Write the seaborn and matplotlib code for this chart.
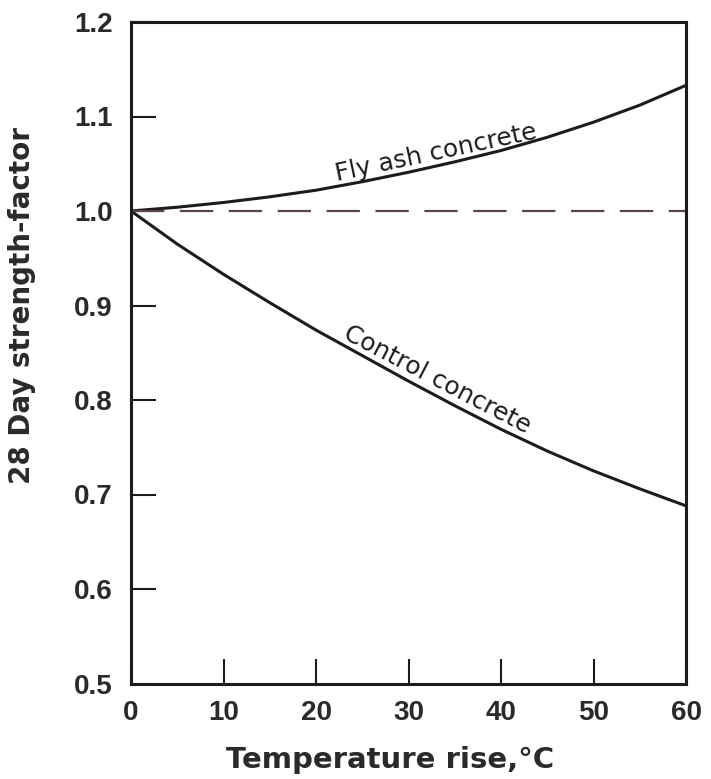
import pandas as pd
import matplotlib
matplotlib.use("Agg")
import matplotlib.pyplot as plt
import seaborn as sns

# 数值（每 5 °C 一个点）
temp_rise = [0, 5, 10, 15, 20, 25, 30, 35, 40, 45, 50, 55, 60]
fly_ash = [1.000, 1.004, 1.009, 1.015, 1.022, 1.031, 1.041, 1.052, 1.064, 1.078, 1.094, 1.112, 1.133]
control = [1.000, 0.965, 0.933, 0.903, 0.874, 0.847, 0.820, 0.794, 0.769, 0.746, 0.725, 0.706, 0.688]
reference = [1.0] * len(temp_rise)

x_ticks = [0, 10, 20, 30, 40, 50, 60]
y_ticks = [0.5, 0.6, 0.7, 0.8, 0.9, 1.0, 1.1, 1.2]

sns.set_style("white")
plt.rcParams['font.family'] = ['Liberation Sans', 'DejaVu Sans']

df = pd.DataFrame({'T': temp_rise, 'fly': fly_ash, 'ctrl': control, 'ref': reference})

fig = plt.figure(figsize=(7.11, 7.79), dpi=100)
ax = fig.add_axes([131 / 711, 1 - 683.5 / 779, 555 / 711, 661.5 / 779])

line_col = '#1c1c1c'
sns.lineplot(data=df, x='T', y='fly', ax=ax, color=line_col, linewidth=2.2)
sns.lineplot(data=df, x='T', y='ctrl', ax=ax, color=line_col, linewidth=2.2)
sns.lineplot(data=df, x='T', y='ref', ax=ax, color='#5a4646', linewidth=1.6,
             linestyle=(0, (15, 7)))

ax.set_xlim(0, 60)
ax.set_ylim(0.5, 1.2)
ax.set_xticks(x_ticks)
ax.set_yticks(y_ticks)
ax.set_yticklabels([f'{v:.1f}' for v in y_ticks])
ax.tick_params(bottom=True, left=True, top=False, right=False,
               direction='in', length=18, width=1.5, color=line_col,
               labelsize=20)
ax.tick_params(axis='x', pad=12)
ax.tick_params(axis='y', pad=13)
for lab in ax.get_xticklabels() + ax.get_yticklabels():
    lab.set_fontweight('bold')
    lab.set_color('#2a2a2a')

for s in ax.spines.values():
    s.set_linewidth(2.2)
    s.set_color(line_col)

ax.set_xlabel('Temperature rise,°C', fontsize=21, fontweight='bold',
              color='#2a2a2a', family='DejaVu Sans')
ax.xaxis.set_label_coords(0.467, -0.095)
ax.set_ylabel('28 Day strength-factor', fontsize=20, fontweight='bold',
              color='#2a2a2a', family='DejaVu Sans')
ax.yaxis.set_label_coords(-0.172, 0.572)

ax.text(33.0, 1.062, 'Fly ash concrete', fontsize=18, rotation=12,
        ha='center', va='center', color=line_col, family='DejaVu Sans')
ax.text(33.1, 0.821, 'Control concrete', fontsize=18, rotation=-27.5,
        ha='center', va='center', color=line_col, family='DejaVu Sans')

fig.savefig('out.png', dpi=100)
